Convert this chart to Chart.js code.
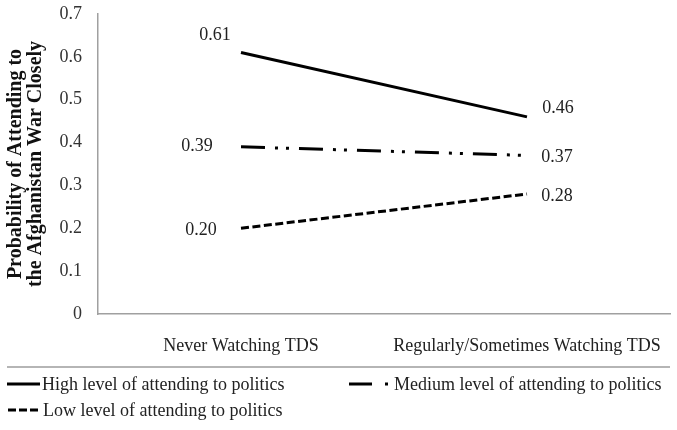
<!DOCTYPE html>
<html>
<head>
<meta charset="utf-8">
<script src="https://cdn.jsdelivr.net/npm/chart.js@4.4.1/dist/chart.umd.min.js"></script>
<style>
  html, body { margin: 0; padding: 0; background: #fff; }
</style>
</head>
<body>
<canvas id="chart" width="677" height="430"></canvas>
<script>
// data
const categories = ['Never Watching TDS', 'Regularly/Sometimes Watching TDS'];
const seriesNames = [
  'High level of attending to politics',
  'Medium level of attending to politics',
  'Low level of attending to politics'
];
const highValues = [0.61, 0.46];
const mediumValues = [0.39, 0.37];
const lowValues = [0.20, 0.28];
const yTickLabels = ['0', '0.1', '0.2', '0.3', '0.4', '0.5', '0.6', '0.7'];
const yTitle = ['Probability of Attending to', 'the Afghanistan War Closely'];

const FONT = '"Liberation Serif", "Times New Roman", serif';

// value labels next to each point
const pointLabels = {
  id: 'pointLabels',
  afterDatasetsDraw(chart) {
    const ctx = chart.ctx;
    const xs = chart.scales.x, ys = chart.scales.y;
    ctx.save();
    ctx.font = '18px ' + FONT;
    ctx.fillStyle = '#222';
    ctx.textAlign = 'center';
    ctx.textBaseline = 'middle';
    chart.data.datasets.forEach(ds => {
      ds.data.forEach((v, i) => {
        const off = ds.labelOffsets[i];
        ctx.fillText(v.toFixed(2), xs.getPixelForValue(i) + off[0], ys.getPixelForValue(v) + off[1]);
      });
    });
    ctx.restore();
  }
};

// legend under a grey rule, like the original
const refLegend = {
  id: 'refLegend',
  afterDraw(chart, args, opts) {
    const ctx = chart.ctx;
    ctx.save();
    ctx.strokeStyle = '#9c9c9c';
    ctx.lineWidth = 1.5;
    ctx.beginPath();
    ctx.moveTo(opts.rule.x1, opts.rule.y);
    ctx.lineTo(opts.rule.x2, opts.rule.y);
    ctx.stroke();

    ctx.font = '18px ' + FONT;
    ctx.fillStyle = '#222';
    ctx.textAlign = 'left';
    ctx.textBaseline = 'middle';
    chart.data.datasets.forEach((ds, i) => {
      const it = opts.items[i];
      ctx.strokeStyle = '#000';
      ctx.lineWidth = 3;
      ctx.lineCap = 'butt';
      ctx.setLineDash(ds.legendDash || []);
      ctx.beginPath();
      ctx.moveTo(it.x, it.y);
      ctx.lineTo(it.x + it.w, it.y);
      ctx.stroke();
      ctx.setLineDash([]);
      ctx.fillText(ds.label, it.tx, it.y + 1);
    });
    ctx.restore();
  }
};

const ctx = document.getElementById('chart').getContext('2d');
const chart = new Chart(ctx, {
  type: 'line',
  data: {
    labels: categories,
    datasets: [
      {
        label: seriesNames[0],
        data: highValues,
        borderColor: '#000',
        borderWidth: 3,
        borderDash: [],
        legendDash: [],
        labelOffsets: [[-26, -17], [31, -9]]
      },
      {
        label: seriesNames[1],
        data: mediumValues,
        borderColor: '#000',
        borderWidth: 3,
        borderDash: [24, 10, 3, 8, 3, 10],
        legendDash: [23, 13, 3, 20],
        labelOffsets: [[-44, -1], [30, 2]]
      },
      {
        label: seriesNames[2],
        data: lowValues,
        borderColor: '#000',
        borderWidth: 3,
        borderDash: [8, 3.5],
        legendDash: [8, 3],
        labelOffsets: [[-40, 2], [30, 2]]
      }
    ]
  },
  options: {
    responsive: false,
    animation: false,
    elements: { point: { radius: 0 }, line: { tension: 0, fill: false } },
    layout: { padding: { top: 14, right: 7, left: 0, bottom: 0 } },
    plugins: {
      legend: { display: false },
      tooltip: { enabled: false },
      refLegend: {
        rule: { x1: 7, x2: 670, y: 367 },
        items: [
          { x: 7, y: 384, w: 33, tx: 42 },
          { x: 349, y: 384, w: 41, tx: 394 },
          { x: 8, y: 410, w: 32, tx: 43 }
        ]
      }
    },
    scales: {
      x: {
        offset: true,
        grid: { display: false, drawTicks: false },
        border: { color: '#a0a0a0', width: 1.5 },
        ticks: { color: '#222', font: { family: FONT, size: 18 }, padding: 21, maxRotation: 0 },
        afterFit(s) { s.height = 116; s.paddingLeft = 0; s.paddingRight = 0; }
      },
      y: {
        min: 0,
        max: 0.7,
        grid: { display: false, drawTicks: false },
        border: { color: '#a0a0a0', width: 1.5 },
        ticks: {
          stepSize: 0.1,
          autoSkip: false,
          padding: 16,
          color: '#333',
          font: { family: FONT, size: 18 },
          callback: (v, i) => yTickLabels[i]
        },
        title: {
          display: true,
          text: yTitle,
          color: '#111',
          font: { family: FONT, size: 20, weight: 'bold', lineHeight: 1 },
          padding: { top: 6, bottom: 0 }
        },
        afterFit(s) { s.width = 98; s.paddingTop = 0; s.paddingBottom = 0; }
      }
    }
  },
  plugins: [pointLabels, refLegend]
});
</script>
</body>
</html>
